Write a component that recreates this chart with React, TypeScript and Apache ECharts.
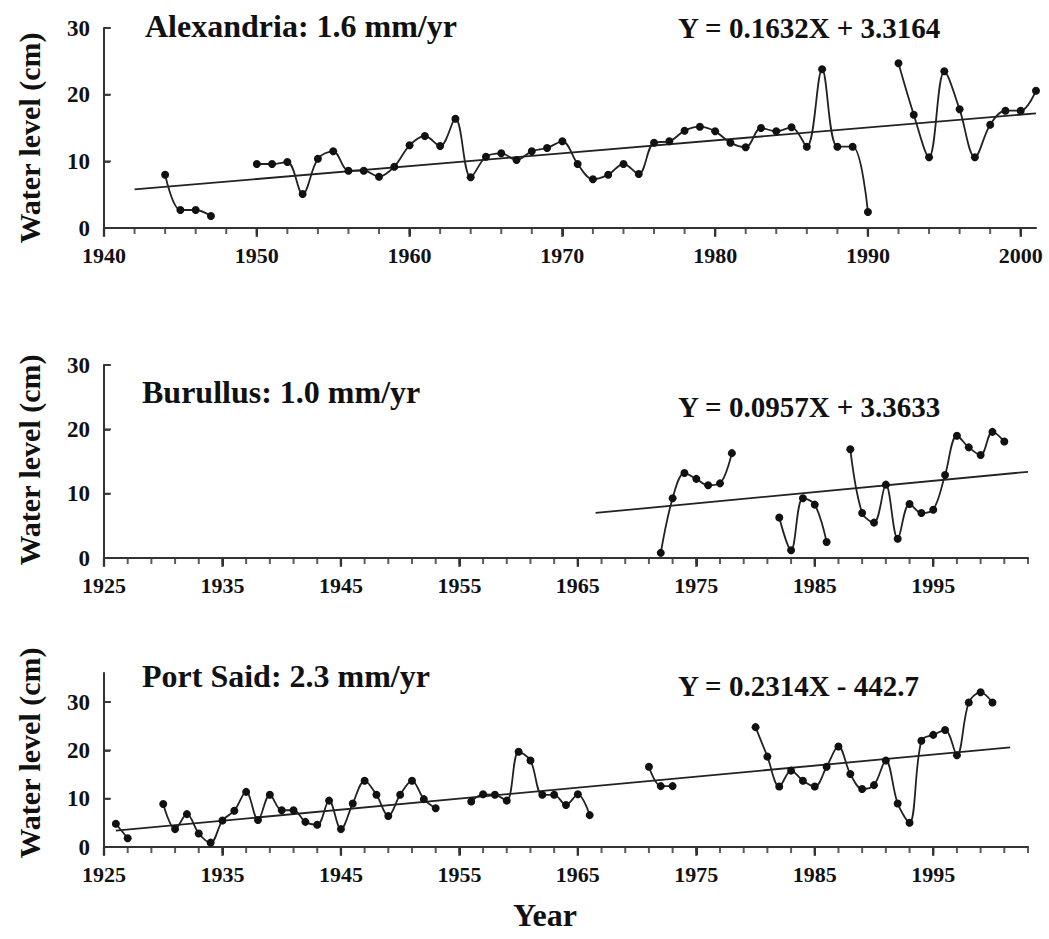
import React, { useEffect, useRef } from "react";
import * as echarts from "echarts";

const FONT = '"Liberation Serif", "Times New Roman", serif';
const INK = "#111111";
const AXIS = "#333333";

// ---------- Alexandria ----------
const alexYears = [
  1944, 1945, 1946, 1947, 1948, 1950, 1951, 1952, 1953, 1954, 1955, 1956, 1957, 1958, 1959,
  1960, 1961, 1962, 1963, 1964, 1965, 1966, 1967, 1968, 1969, 1970, 1971, 1972, 1973, 1974,
  1975, 1976, 1977, 1978, 1979, 1980, 1981, 1982, 1983, 1984, 1985, 1986, 1987, 1988, 1989,
  1990, 1991, 1992, 1993, 1994, 1995, 1996, 1997, 1998, 1999, 2000, 2001,
];
const alexLevels = [
  8.0, 2.7, 2.7, 1.8, null, 9.6, 9.6, 9.9, 5.1, 10.4, 11.5, 8.6, 8.6, 7.7, 9.2,
  12.4, 13.8, 12.3, 16.4, 7.6, 10.7, 11.2, 10.2, 11.5, 12.0, 13.0, 9.6, 7.3, 8.0, 9.6,
  8.1, 12.8, 13.0, 14.6, 15.2, 14.5, 12.8, 12.1, 15.0, 14.5, 15.1, 12.2, 23.8, 12.2, 12.2,
  2.4, null, 24.7, 17.0, 10.6, 23.5, 17.8, 10.6, 15.5, 17.6, 17.6, 20.6,
];
const alexTrendYears = [1942, 2001];
const alexTrendLevels = [5.8, 17.2];

// ---------- Burullus ----------
const burYears = [
  1972, 1973, 1974, 1975, 1976, 1977, 1978, 1979, 1982, 1983, 1984, 1985, 1986, 1987,
  1988, 1989, 1990, 1991, 1992, 1993, 1994, 1995, 1996, 1997, 1998, 1999, 2000, 2001,
];
const burLevels = [
  0.8, 9.3, 13.2, 12.3, 11.3, 11.6, 16.3, null, 6.3, 1.2, 9.3, 8.3, 2.5, null,
  16.9, 7.0, 5.5, 11.4, 3.0, 8.4, 7.0, 7.5, 12.9, 19.0, 17.2, 16.0, 19.6, 18.1,
];
const burTrendYears = [1966.5, 2003];
const burTrendLevels = [7.0, 13.4];

// ---------- Port Said ----------
const psYears = [
  1926, 1927, 1928, 1930, 1931, 1932, 1933, 1934, 1935, 1936, 1937, 1938, 1939, 1940,
  1941, 1942, 1943, 1944, 1945, 1946, 1947, 1948, 1949, 1950, 1951, 1952, 1953, 1954,
  1956, 1957, 1958, 1959, 1960, 1961, 1962, 1963, 1964, 1965, 1966, 1967, 1971, 1972,
  1973, 1974, 1980, 1981, 1982, 1983, 1984, 1985, 1986, 1987, 1988, 1989, 1990, 1991,
  1992, 1993, 1994, 1995, 1996, 1997, 1998, 1999, 2000,
];
const psLevels = [
  4.8, 1.8, null, 8.9, 3.7, 6.8, 2.8, 0.9, 5.5, 7.5, 11.4, 5.6, 10.8, 7.6,
  7.6, 5.2, 4.6, 9.6, 3.7, 9.0, 13.7, 10.8, 6.4, 10.8, 13.7, 9.9, 8.0, null,
  9.4, 10.9, 10.8, 9.6, 19.7, 17.9, 10.8, 10.8, 8.7, 10.9, 6.6, null, 16.6, 12.6,
  12.6, null, 24.8, 18.7, 12.5, 15.8, 13.7, 12.5, 16.6, 20.8, 15.1, 12.0, 12.8, 17.9,
  9.0, 5.0, 22.0, 23.2, 24.2, 19.0, 29.9, 32.0, 29.9,
];
const psTrendYears = [1926, 2001.5];
const psTrendLevels = [3.4, 20.6];

// ---------- Axes ----------
const alexLabelYears = [1940, 1950, 1960, 1970, 1980, 1990, 2000];
const lowerLabelYears = [1925, 1935, 1945, 1955, 1965, 1975, 1985, 1995];
const levelTicks = [0, 10, 20, 30];

const titles = ["Alexandria: 1.6 mm/yr", "Burullus: 1.0 mm/yr", "Port Said: 2.3 mm/yr"];
const equations = ["Y = 0.1632X + 3.3164", "Y = 0.0957X + 3.3633", "Y = 0.2314X - 442.7"];
const yName = "Water level (cm)";
const xName = "Year";

// minor tick marks every two years along a time axis
function everyOther(from: number, to: number): number[] {
  const out: number[] = [];
  for (let v = from; v <= to; v += 2) out.push(v);
  return out;
}

const pairs = (xs: number[], ys: (number | null)[]) =>
  xs.map((x, i) => [x, ys[i] === null ? "-" : ys[i]]);

export default function App() {
  const ref = useRef<HTMLDivElement>(null);

  useEffect(() => {
    if (!ref.current) return;
    const chart = echarts.init(ref.current, undefined, { renderer: "svg" });

    const panels = [
      { left: 104, top: 28, width: 932, height: 200, xmin: 1940, xmax: 2001, ymax: 30, labels: alexLabelYears },
      { left: 104, top: 365, width: 924, height: 193, xmin: 1925, xmax: 2003, ymax: 30, labels: lowerLabelYears },
      { left: 104, top: 673, width: 924, height: 174, xmin: 1925, xmax: 2003, ymax: 36, labels: lowerLabelYears },
    ];

    const grid = panels.map((p) => ({ left: p.left, top: p.top, width: p.width, height: p.height }));

    const xAxis: any[] = [];
    const yAxis: any[] = [];
    panels.forEach((p, i) => {
      xAxis.push({
        type: "value",
        gridIndex: i,
        position: "bottom",
        min: p.xmin,
        max: p.xmax,
        axisLine: { show: true, onZero: false, lineStyle: { color: AXIS, width: 2 } },
        axisTick: { show: true, customValues: p.labels, length: 8, lineStyle: { color: AXIS, width: 2 } },
        axisLabel: {
          customValues: p.labels,
          formatter: (v: number) => String(v),
          fontFamily: FONT,
          fontWeight: "bold",
          fontSize: 22,
          color: INK,
          margin: 16,
        },
        splitLine: { show: false },
      });
      yAxis.push({
        type: "value",
        gridIndex: i,
        min: 0,
        max: p.ymax,
        interval: 10,
        axisLine: { show: true, onZero: false, lineStyle: { color: AXIS, width: 2 } },
        axisTick: { show: true, inside: true, length: 6, customValues: levelTicks, lineStyle: { color: AXIS, width: 1.6 } },
        axisLabel: {
          customValues: levelTicks,
          formatter: (v: number) => String(v),
          fontFamily: FONT,
          fontWeight: "bold",
          fontSize: 23,
          color: INK,
          margin: 14,
        },
        splitLine: { show: false },
      });
    });

    const dataSets = [
      { xs: alexYears, ys: alexLevels, tx: alexTrendYears, ty: alexTrendLevels },
      { xs: burYears, ys: burLevels, tx: burTrendYears, ty: burTrendLevels },
      { xs: psYears, ys: psLevels, tx: psTrendYears, ty: psTrendLevels },
    ];

    const series: any[] = [];
    dataSets.forEach((d, i) => {
      const p = panels[i];
      // two-year tick marks below the time axis
      series.push({
        type: "scatter",
        xAxisIndex: i,
        yAxisIndex: i,
        silent: true,
        clip: false,
        symbol: "rect",
        symbolSize: [2, 6],
        symbolOffset: [0, 3],
        itemStyle: { color: AXIS },
        data: everyOther(p.xmin, p.xmax).map((y) => [y, 0]),
        z: 1,
      });
      // decade tick marks (slightly longer)
      series.push({
        type: "scatter",
        xAxisIndex: i,
        yAxisIndex: i,
        silent: true,
        clip: false,
        symbol: "rect",
        symbolSize: [2.4, 9],
        symbolOffset: [0, 4.5],
        itemStyle: { color: AXIS },
        data: p.labels.map((y) => [y, 0]),
        z: 1,
      });
      // level tick marks inside the value axis
      series.push({
        type: "scatter",
        xAxisIndex: i,
        yAxisIndex: i,
        silent: true,
        clip: false,
        symbol: "rect",
        symbolSize: [7, 2],
        symbolOffset: [3.5, 0],
        itemStyle: { color: AXIS },
        data: levelTicks.map((v) => [p.xmin, v]),
        z: 1,
      });
      series.push({
        type: "line",
        xAxisIndex: i,
        yAxisIndex: i,
        data: pairs(d.tx, d.ty),
        showSymbol: false,
        symbol: "none",
        lineStyle: { color: "#222", width: 1.8 },
        z: 2,
      });
      series.push({
        type: "line",
        xAxisIndex: i,
        yAxisIndex: i,
        data: pairs(d.xs, d.ys),
        smooth: 0.35,
        connectNulls: false,
        symbol: "circle",
        symbolSize: 8,
        itemStyle: { color: "#111" },
        lineStyle: { color: "#222", width: 1.8 },
        z: 3,
      });
    });

    const titlePos = [
      { tx: 145, ty: 26, ex: 678, ey: 28 },
      { tx: 142, ty: 392, ex: 678, ey: 407 },
      { tx: 142, ty: 676, ex: 678, ey: 686 },
    ];
    const yNameY = [138, 460, 753];

    const graphic: any[] = [];
    titlePos.forEach((t, i) => {
      graphic.push({
        type: "text",
        x: t.tx,
        y: t.ty,
        style: {
          text: titles[i],
          font: `bold 32px ${FONT}`,
          fill: INK,
          align: "left",
          verticalAlign: "middle",
        },
      });
      graphic.push({
        type: "text",
        x: t.ex,
        y: t.ey,
        style: {
          text: equations[i],
          font: `bold 29px ${FONT}`,
          fill: INK,
          align: "left",
          verticalAlign: "middle",
        },
      });
      graphic.push({
        type: "text",
        x: 29,
        y: yNameY[i],
        rotation: Math.PI / 2,
        style: {
          text: yName,
          font: `bold 30px ${FONT}`,
          fill: INK,
          align: "center",
          verticalAlign: "middle",
        },
      });
    });
    graphic.push({
      type: "text",
      x: 545,
      y: 915,
      style: {
        text: xName,
        font: `bold 32px ${FONT}`,
        fill: INK,
        align: "center",
        verticalAlign: "middle",
      },
    });

    chart.setOption({
      animation: false,
      backgroundColor: "#ffffff",
      grid,
      xAxis,
      yAxis,
      series,
      graphic,
    });

    return () => chart.dispose();
  }, []);

  return (
    <div
      ref={ref}
      style={{ position: "absolute", left: 0, top: 0, width: 1049, height: 939, background: "#fff" }}
    />
  );
}
